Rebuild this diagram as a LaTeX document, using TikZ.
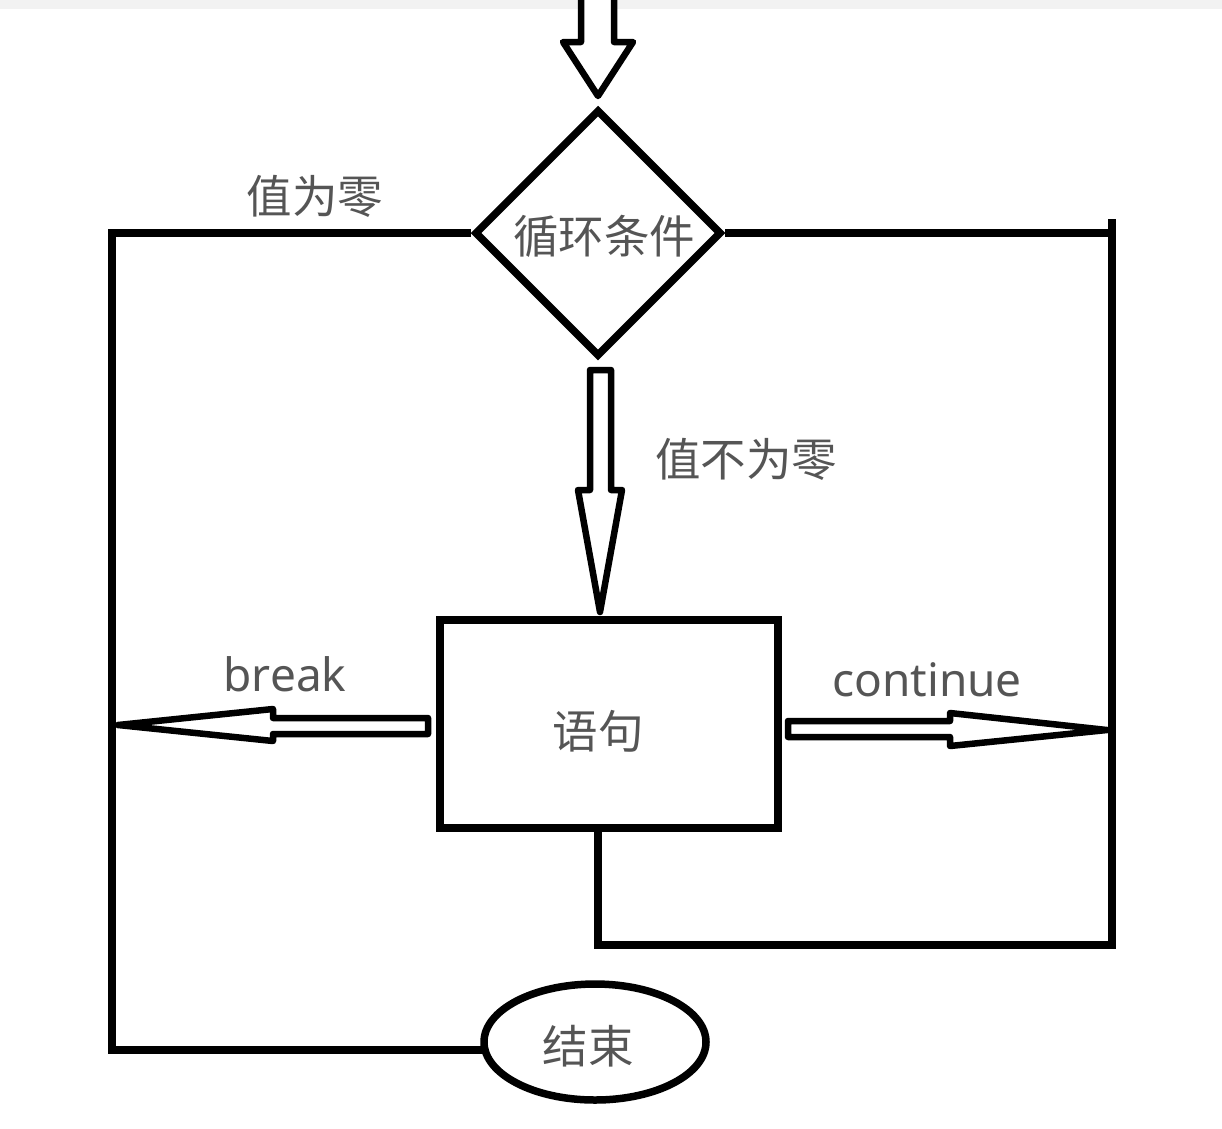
\documentclass[tikz,border=0pt]{standalone}
\usepackage{fontspec}
\setmainfont{Noto Sans}
\newfontfamily\cjk{Noto Sans CJK SC}
\usetikzlibrary{shapes.geometric}
\definecolor{txt}{RGB}{85,85,85}
\begin{document}
\begin{tikzpicture}[x=1pt,y=-1pt,
  line width=7.5pt,
  lbl/.style={text=txt,font=\cjk\fontsize{45.5}{52}\selectfont,inner sep=0pt},
  elbl/.style={text=txt,font=\fontsize{46}{52}\selectfont,inner sep=0pt},
  hollow/.style={line width=6.5pt,line join=round,fill=white},
  conn/.style={line width=7.5pt}]
\useasboundingbox (0,0) rectangle (1222,1128);
\fill[black!5] (0,0) rectangle (1222,9);
% nodes
\node[draw,diamond,aspect=1,minimum width=247pt,minimum height=247pt,inner sep=0pt,lbl] (cond) at (598,233) {};
\node[lbl] at (604,236) {循环条件};
\node[draw,rectangle,minimum width=338pt,minimum height=208pt,inner sep=0pt,lbl] (stmt) at (609,724) {};
\node[lbl] at (598,731) {语句};
\node[draw,ellipse,minimum width=222pt,minimum height=116pt,inner sep=0pt,lbl] (end) at (595,1042) {};
\node[lbl] at (588,1046) {结束};
% labels
\node[lbl] (zero) at (315,196) {值为零};
\node[lbl] (nonzero) at (746,459) {值不为零};
\node[elbl] (brk) at (285,674) {break};
\node[elbl] (cont) at (927,680) {continue};
% coordinates
\coordinate (lt) at (112,233);
\coordinate (lb) at (112,1050);
\coordinate (le) at (488,1050);
\coordinate (rt) at (1112,233);
\coordinate (rtop) at (1112,219);
\coordinate (br) at (1112,945);
\coordinate (bl) at (598,945);
% connectors
\draw[conn] (cond.west) -- (lt) -- (lb) -- (le);
\draw[conn] (cond.east) -- (rt);
\draw[conn] (rtop) -- (br) -- (bl) -- (stmt.south -| bl);
% hollow arrows
\draw[hollow] (581,-10) -- (581,42) -- (563,42) -- (598,96) -- (633,42) -- (614,42) -- (614,-10);
\draw[hollow] (590,370) -- (590,490) -- (578,490) -- (600,612) -- (622,490) -- (611,490) -- (611,370) -- cycle;
\draw[hollow] (428,718) -- (273,718) -- (273,709) -- (118,725) -- (273,741) -- (273,734) -- (428,734) -- cycle;
\draw[hollow] (788,721) -- (950,721) -- (950,713) -- (1107,730) -- (950,746) -- (950,737) -- (788,737) -- cycle;
\end{tikzpicture}
\end{document}
